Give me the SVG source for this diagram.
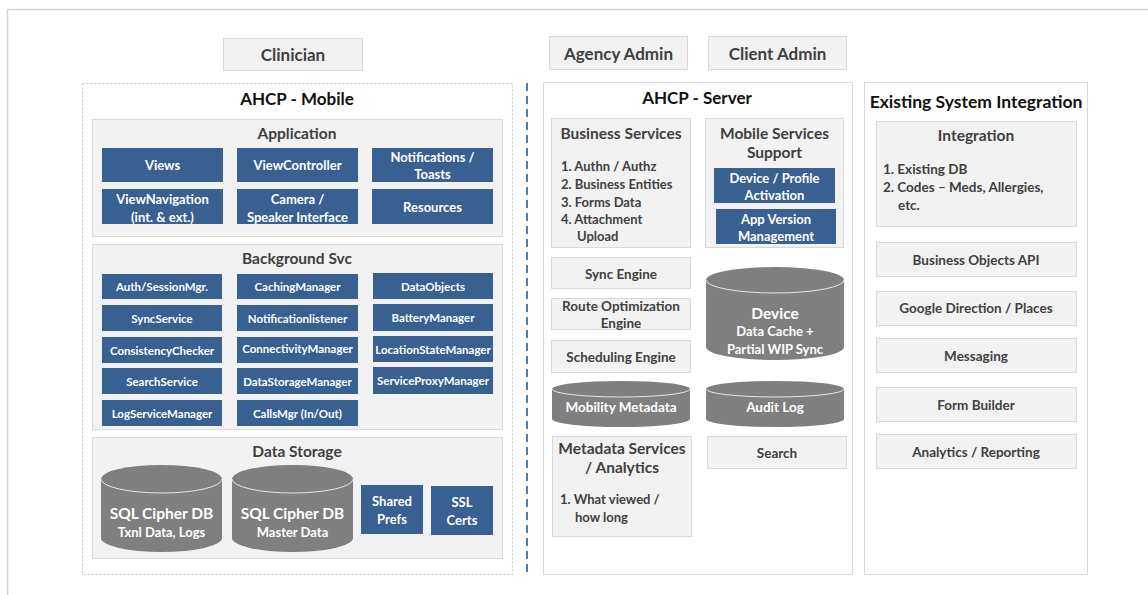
<svg xmlns="http://www.w3.org/2000/svg" width="1148" height="595" viewBox="0 0 1148 595">
<style>
.lb{fill:#f2f2f2;stroke:#d9d9d9;stroke-width:1}
.bb{fill:#386090}
.cy{fill:#7f7f7f}
.rim{fill:none;stroke:#e6e6e6;stroke-width:1}
text{font-family:Lato,"Liberation Sans",sans-serif;font-weight:bold;dominant-baseline:central}
.m{text-anchor:middle}
.w{fill:#ffffff}
.d{fill:#404040}
.k{fill:#111111}
.s10{font-size:11.5px}
.s12{font-size:13px}
.sl{font-size:13px}
.s13{font-size:13.5px}
.s14{font-size:14px}
.s15{font-size:15.5px}
.s16{font-size:17px}
.s17{font-size:17.5px}
</style>
<rect width="1148" height="595" fill="#ffffff"/>
<path d="M7.5,595 V9.5 H1148" fill="none" stroke="#d4d4d4" stroke-width="1.5"/>

<g id="clinician"><rect class="lb" x="223.5" y="38.5" width="139" height="32"/><text class="m d s16" x="293" y="54.5">Clinician</text></g>
<g id="agency-admin"><rect class="lb" x="549.5" y="36.5" width="138" height="33"/><text class="m d s16" x="618.5" y="53">Agency Admin</text></g>
<g id="client-admin"><rect class="lb" x="708.5" y="36.5" width="138" height="33"/><text class="m d s16" x="777.5" y="53">Client Admin</text></g>

<g id="ahcp-mobile">
<rect x="82.5" y="83.5" width="430" height="491" fill="#ffffff" stroke="#c8c8c8" stroke-width="1" stroke-dasharray="2,2"/>
<text class="m k s16" x="297" y="98">AHCP - Mobile</text>
</g>

<g id="application">
<rect class="lb" x="92.5" y="119.5" width="410" height="117"/>
<text class="m d s15" x="297" y="133">Application</text>
</g>
<g id="views"><rect class="bb" x="102" y="148" width="121" height="34"/><text class="m w s12" x="162.5" y="165">Views</text></g>
<g id="viewcontroller"><rect class="bb" x="237" y="148" width="121" height="34"/><text class="m w s12" x="297.5" y="165">ViewController</text></g>
<g id="notifications"><rect class="bb" x="372" y="148" width="121" height="34"/><text class="m w s12" x="432.5" y="157">Notifications /</text><text class="m w s12" x="432.5" y="174">Toasts</text></g>
<g id="viewnavigation"><rect class="bb" x="102" y="189" width="121" height="35"/><text class="m w s12" x="162.5" y="199">ViewNavigation</text><text class="m w s12" x="162.5" y="216.5">(int. &amp; ext.)</text></g>
<g id="camera"><rect class="bb" x="237" y="189" width="121" height="35"/><text class="m w s12" x="297.5" y="199">Camera /</text><text class="m w s12" x="297.5" y="216.5">Speaker Interface</text></g>
<g id="resources"><rect class="bb" x="372" y="189" width="121" height="35"/><text class="m w s12" x="432.5" y="207">Resources</text></g>

<g id="background-svc">
<rect class="lb" x="92.5" y="244.5" width="410" height="185"/>
<text class="m d s15" x="297" y="258">Background Svc</text>
</g>
<g id="auth"><rect class="bb" x="102" y="274" width="120" height="25"/><text class="m w s10" x="162" y="286.5">Auth/SessionMgr.</text></g>
<g id="caching"><rect class="bb" x="237" y="274" width="121" height="25"/><text class="m w s10" x="297.5" y="286.5">CachingManager</text></g>
<g id="dataobjects"><rect class="bb" x="373" y="273" width="120" height="26"/><text class="m w s10" x="433" y="286">DataObjects</text></g>
<g id="syncservice"><rect class="bb" x="102" y="305" width="120" height="26"/><text class="m w s10" x="162" y="318">SyncService</text></g>
<g id="notificationlistener"><rect class="bb" x="237" y="305" width="121" height="26"/><text class="m w s10" x="297.5" y="318">Notificationlistener</text></g>
<g id="battery"><rect class="bb" x="373" y="304" width="120" height="27"/><text class="m w s10" x="433" y="317.5">BatteryManager</text></g>
<g id="consistency"><rect class="bb" x="102" y="337" width="120" height="26"/><text class="m w s10" x="162" y="350">ConsistencyChecker</text></g>
<g id="connectivity"><rect class="bb" x="237" y="337" width="121" height="26"/><text class="m w s10" x="297.5" y="348.5">ConnectivityManager</text></g>
<g id="location"><rect class="bb" x="373" y="336" width="120" height="26"/><text class="m w s10" x="433" y="349">LocationStateManager</text></g>
<g id="search-svc"><rect class="bb" x="102" y="368" width="120" height="26"/><text class="m w s10" x="162" y="381">SearchService</text></g>
<g id="datastorage-mgr"><rect class="bb" x="237" y="368" width="121" height="26"/><text class="m w s10" x="297.5" y="381">DataStorageManager</text></g>
<g id="serviceproxy"><rect class="bb" x="373" y="367" width="120" height="27"/><text class="m w s10" x="433" y="380">ServiceProxyManager</text></g>
<g id="logservice"><rect class="bb" x="102" y="400" width="120" height="26"/><text class="m w s10" x="162" y="413">LogServiceManager</text></g>
<g id="callsmgr"><rect class="bb" x="237" y="400" width="121" height="26"/><text class="m w s10" x="297.5" y="413">CallsMgr (In/Out)</text></g>

<g id="data-storage">
<rect class="lb" x="92.5" y="437.5" width="410" height="121"/>
<text class="m d s15" x="297" y="451">Data Storage</text>
</g>
<g id="sql-txnl">
<path class="cy" d="M101,479 A60.5,14 0 0 1 222,479 V538 A60.5,14 0 0 1 101,538 Z"/>
<path class="rim" d="M101,479 A60.5,14 0 0 0 222,479"/>
<text class="m w s15" x="161.5" y="513">SQL Cipher DB</text>
<text class="m w s12" x="161.5" y="532">Txnl Data, Logs</text>
</g>
<g id="sql-master">
<path class="cy" d="M232,479 A60.5,14 0 0 1 353,479 V538 A60.5,14 0 0 1 232,538 Z"/>
<path class="rim" d="M232,479 A60.5,14 0 0 0 353,479"/>
<text class="m w s15" x="292.5" y="513">SQL Cipher DB</text>
<text class="m w s12" x="292.5" y="532">Master Data</text>
</g>
<g id="shared-prefs"><rect class="bb" x="361" y="485" width="62" height="49"/><text class="m w s12" x="392" y="501">Shared</text><text class="m w s12" x="392" y="519">Prefs</text></g>
<g id="ssl-certs"><rect class="bb" x="431" y="486" width="62" height="49"/><text class="m w s12" x="462" y="502">SSL</text><text class="m w s12" x="462" y="520">Certs</text></g>

<g id="connectors">
<line x1="527" y1="83" x2="527" y2="575" stroke="#4a7ebb" stroke-width="2" stroke-dasharray="8,5"/>
</g>

<g id="ahcp-server">
<rect x="543.5" y="82.5" width="309" height="492" fill="#ffffff" stroke="#d9d9d9" stroke-width="1"/>
<text class="m k s16" x="697" y="97">AHCP - Server</text>
</g>
<g id="business-services">
<rect class="lb" x="551.5" y="118.5" width="139" height="129"/>
<text class="m d s15" x="621" y="133">Business Services</text>
<text class="d sl" x="561" y="166">1. Authn / Authz</text>
<text class="d sl" x="561" y="184">2. Business Entities</text>
<text class="d sl" x="561" y="201.5">3. Forms Data</text>
<text class="d sl" x="561" y="219">4. Attachment</text>
<text class="d sl" x="577" y="236">Upload</text>
</g>
<g id="mobile-services">
<rect class="lb" x="705.5" y="118.5" width="138" height="129"/>
<text class="m d s15" x="774.5" y="133">Mobile Services</text>
<text class="m d s15" x="774.5" y="152">Support</text>
</g>
<g id="device-profile"><rect class="bb" x="714" y="168" width="121" height="35"/><text class="m w s12" x="774.5" y="177.5">Device / Profile</text><text class="m w s12" x="774.5" y="195">Activation</text></g>
<g id="app-version"><rect class="bb" x="716" y="209" width="120" height="35"/><text class="m w s12" x="776" y="218.5">App Version</text><text class="m w s12" x="776" y="235.5">Management</text></g>
<g id="sync-engine"><rect class="lb" x="551.5" y="257.5" width="139" height="31"/><text class="m d s13" x="621" y="273.5">Sync Engine</text></g>
<g id="route-opt"><rect class="lb" x="551.5" y="298.5" width="139" height="31"/><text class="m d s13" x="621" y="306">Route Optimization</text><text class="m d s13" x="621" y="323">Engine</text></g>
<g id="scheduling"><rect class="lb" x="551.5" y="340.5" width="139" height="32"/><text class="m d s13" x="621" y="357">Scheduling Engine</text></g>
<g id="mobility-metadata">
<path class="cy" d="M552,389 A69,8 0 0 1 690,389 V419 A69,8 0 0 1 552,419 Z"/>
<path class="rim" d="M552,389 A69,8 0 0 0 690,389"/>
<text class="m w s13" x="621" y="407">Mobility Metadata</text>
</g>
<g id="device-cache">
<path class="cy" d="M706,280 A69,13 0 0 1 844,280 V347 A69,13 0 0 1 706,347 Z"/>
<path class="rim" d="M706,280 A69,13 0 0 0 844,280"/>
<text class="m w s15" x="775" y="313">Device</text>
<text class="m w s12" x="775" y="331">Data Cache +</text>
<text class="m w s12" x="775" y="348.5">Partial WIP Sync</text>
</g>
<g id="audit-log">
<path class="cy" d="M706,389 A69,8 0 0 1 844,389 V419 A69,8 0 0 1 706,419 Z"/>
<path class="rim" d="M706,389 A69,8 0 0 0 844,389"/>
<text class="m w s13" x="775" y="407">Audit Log</text>
</g>
<g id="metadata-services">
<rect class="lb" x="552.5" y="436.5" width="139" height="100"/>
<text class="m d s15" x="622" y="448">Metadata Services</text>
<text class="m d s15" x="622" y="467">/ Analytics</text>
<text class="d sl" x="560" y="499">1. What viewed /</text>
<text class="d sl" x="575" y="517">how long</text>
</g>
<g id="search"><rect class="lb" x="707.5" y="436.5" width="139" height="32"/><text class="m d s13" x="777" y="453">Search</text></g>

<g id="existing-system">
<rect x="864.5" y="82.5" width="223" height="492" fill="#ffffff" stroke="#d9d9d9" stroke-width="1"/>
<text class="m k s17" x="976" y="101">Existing System Integration</text>
</g>
<g id="integration">
<rect class="lb" x="876.5" y="121.5" width="200" height="105"/>
<text class="m d s15" x="976" y="135">Integration</text>
<text class="d s13" x="883" y="169">1. Existing DB</text>
<text class="d s13" x="883" y="187">2. Codes – Meds, Allergies,</text>
<text class="d s13" x="898" y="204.5">etc.</text>
</g>
<g id="business-objects"><rect class="lb" x="876.5" y="242.5" width="200" height="34"/><text class="m d s13" x="976" y="259.5">Business Objects API</text></g>
<g id="google"><rect class="lb" x="876.5" y="291.5" width="200" height="34"/><text class="m d s13" x="976" y="308">Google Direction / Places</text></g>
<g id="messaging"><rect class="lb" x="876.5" y="338.5" width="200" height="34"/><text class="m d s13" x="976" y="355.5">Messaging</text></g>
<g id="form-builder"><rect class="lb" x="876.5" y="387.5" width="200" height="34"/><text class="m d s13" x="976" y="404.5">Form Builder</text></g>
<g id="analytics"><rect class="lb" x="876.5" y="434.5" width="200" height="34"/><text class="m d s13" x="976" y="451.5">Analytics / Reporting</text></g>
</svg>
